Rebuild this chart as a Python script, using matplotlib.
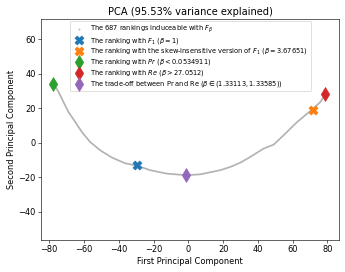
import matplotlib
matplotlib.use('Agg')
import matplotlib.pyplot as plt

# curve of the 687 rankings (approx)
curve_x = [-77.1, -74.6, -71.8, -68.9, -65.0, -61.2, -56.4, -50.6, -43.9, -36.3,
           -29.5, -21.9, -12.3, -1.3, 6.9, 18.4, 24.2, 30.0, 35.7, 43.3,
           49.1, 54.8, 62.6, 67.0, 71.2, 76.0, 78.8]
curve_y = [33.5, 29.3, 23.5, 17.7, 11.9, 6.1, 0.3, -4.5, -8.7, -12.0,
           -13.4, -16.0, -18.0, -18.9, -18.4, -16.0, -14.1, -11.6, -8.3, -3.5,
           -1.2, 4.2, 11.9, 15.6, 19.1, 23.5, 28.0]

f1_pt = (-29.5, -13.1)
skew_pt = (71.5, 19.1)
pr_pt = (-77.8, 33.8)
re_pt = (78.9, 28.0)
trade_pt = (-1.4, -18.8)

labels = [
    'The 687 rankings induceable with $F_\\beta$',
    'The ranking with $F_1$ ($\\beta = 1$)',
    'The ranking with the skew-insensitive version of $F_1$ ($\\beta = 3.67651$)',
    'The ranking with $Pr$ ($\\beta < 0.0534911$)',
    'The ranking with $Re$ ($\\beta > 27.0512$)',
    'The trade-off between Pr and Re ($\\beta \\in (1.33113, 1.33585)$)',
]

fig = plt.figure(figsize=(345 / 54, 272 / 54), dpi=54)
ax = fig.add_axes([0.119, 0.118, 0.864, 0.812])

gray = '#b3b3b3'
ax.plot(curve_x, curve_y, color=gray, lw=2.3, zorder=1)
# legend entry for the dots only
ax.scatter([], [], s=2, color=gray, label=labels[0])
ax.scatter(*f1_pt, marker='X', s=140, color='tab:blue', label=labels[1], zorder=3)
ax.scatter(*skew_pt, marker='X', s=140, color='tab:orange', label=labels[2], zorder=3)
ax.scatter(*pr_pt, marker='d', s=170, color='tab:green', label=labels[3], zorder=3)
ax.scatter(*re_pt, marker='d', s=170, color='tab:red', label=labels[4], zorder=3)
ax.scatter(*trade_pt, marker='d', s=170, color='tab:purple', label=labels[5], zorder=3)

ax.set_xlim(-84.7, 86.8)
ax.set_ylim(-56.4, 71.6)
ax.set_xticks([-80, -60, -40, -20, 0, 20, 40, 60, 80])
ax.set_yticks([-40, -20, 0, 20, 40, 60])
ax.tick_params(labelsize=11)

ax.set_title('PCA (95.53% variance explained)', fontsize=13.2)
ax.set_xlabel('First Principal Component', fontsize=11)
ax.set_ylabel('Second Principal Component', fontsize=11)
ax.legend(loc='upper center', fontsize=8.8, borderaxespad=0.3,
          labelspacing=0.12, borderpad=0.35)

fig.savefig('out.png', dpi=54)
